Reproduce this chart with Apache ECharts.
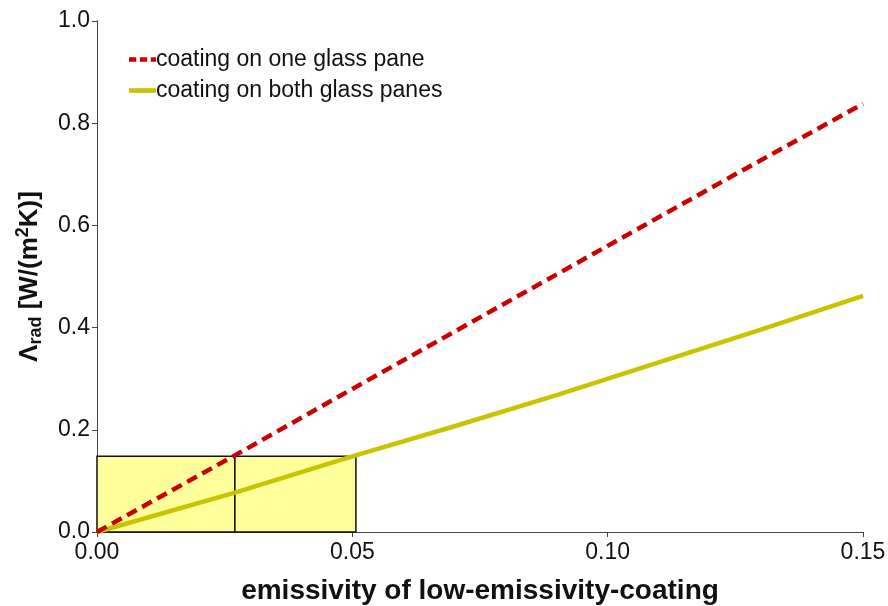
<!DOCTYPE html>
<html>
<head>
<meta charset="utf-8">
<script src="https://cdn.jsdelivr.net/npm/echarts@6/dist/echarts.min.js"></script>
<style>
  html, body { margin: 0; padding: 0; background: #fff; }
  #chart { width: 888px; height: 606px; }
</style>
</head>
<body>
<div id="chart"></div>
<script>
// emissivity of the low-e coating (x) and radiative conductance (y)
const onePaneEps   = [0, 0.027, 0.05, 0.075, 0.10, 0.125, 0.15];
const onePaneLam   = [0, 0.150, 0.280, 0.420, 0.560, 0.700, 0.838];
const bothPaneEps  = [0, 0.027, 0.05, 0.07, 0.09, 0.11, 0.13, 0.15];
const bothPaneLam  = [0, 0.077, 0.148, 0.207, 0.268, 0.332, 0.396, 0.462];
// highlighted region: [epsFrom, epsTo, lambdaTop]
const boxes = [[0, 0.027, 0.148], [0.027, 0.0507, 0.148]];
const seriesNames = ['coating on one glass pane', 'coating on both glass panes'];

const pair = (xs, ys) => xs.map((x, i) => [x, ys[i]]);
const FONT = '"Liberation Sans", Arial, sans-serif';
const AX = '#444';

// legend keys: a short dashed stroke and a short solid stroke
const DASH_ICON = 'path://M0,0H7V4.5H0Z M10.5,0H17.5V4.5H10.5Z M21,0H26V4.5H21Z';
const SOLID_ICON = 'path://M0,0H26V4.5H0Z';

const chart = echarts.init(document.getElementById('chart'), null, { renderer: 'canvas' });
chart.setOption({
  animation: false,
  backgroundColor: '#fff',
  textStyle: { fontFamily: FONT },
  grid: { left: 97, right: 25, top: 21, bottom: 74, containLabel: false, outerBoundsMode: 'none' },
  legend: {
    left: 124, top: 43, orient: 'vertical', itemGap: 8,
    itemWidth: 27, itemHeight: 25,
    textStyle: { fontFamily: FONT, fontSize: 23, color: '#111', padding: [0, 0, 0, -5] },
    data: [
      { name: seriesNames[0], icon: DASH_ICON },
      { name: seriesNames[1], icon: SOLID_ICON }
    ]
  },
  xAxis: [{
    type: 'value', min: 0, max: 0.15, interval: 0.05,
    name: 'emissivity of low-emissivity-coating', nameLocation: 'middle', nameGap: 45,
    nameTextStyle: { fontFamily: FONT, fontSize: 28, fontWeight: 'bold', color: '#111' },
    axisLine: { show: true, lineStyle: { color: AX, width: 1 } },
    axisTick: { show: true, length: 5, lineStyle: { color: AX } },
    axisLabel: { fontSize: 23, color: '#111', margin: 9,
      formatter: v => v.toFixed(2) },
    splitLine: { show: false }
  }, {
    type: 'value', min: 0, max: 0.15, interval: 0.05, position: 'top',
    axisLine: { show: true, lineStyle: { color: AX, width: 1 } },
    axisTick: { show: false }, axisLabel: { show: false }, splitLine: { show: false }
  }],
  yAxis: [{
    type: 'value', min: 0, max: 1.0, interval: 0.2,
    name: '{a|Λ}{sub|rad}{a| [W/(m}{sup|2}{a|K)]}',
    nameLocation: 'middle', nameGap: 49, nameRotate: 90,
    nameTextStyle: {
      fontFamily: FONT, color: '#111',
      rich: {
        a: { fontFamily: FONT, fontSize: 26, fontWeight: 'bold', color: '#111', lineHeight: 36, verticalAlign: 'middle' },
        sub: { fontFamily: FONT, fontSize: 18, fontWeight: 'bold', color: '#111', lineHeight: 36, padding: [13, 0, 0, 0] },
        sup: { fontFamily: FONT, fontSize: 18, fontWeight: 'bold', color: '#111', lineHeight: 36, padding: [0, 0, 13, 0] }
      }
    },
    axisLine: { show: true, lineStyle: { color: AX, width: 1 } },
    axisTick: { show: true, length: 5, lineStyle: { color: AX } },
    axisLabel: { fontSize: 23, color: '#111', margin: 7, formatter: v => v.toFixed(1) },
    splitLine: { show: false }
  }, {
    type: 'value', min: 0, max: 1.0, interval: 0.2, position: 'right',
    axisLine: { show: true, lineStyle: { color: AX, width: 1 } },
    axisTick: { show: true, inside: true, length: 5, lineStyle: { color: AX } },
    axisLabel: { show: false }, splitLine: { show: false }
  }],
  series: [{
    type: 'custom', name: 'region', z: 1, silent: true,
    data: boxes,
    renderItem: (params, api) => {
      const p0 = api.coord([api.value(0), 0]);
      const p1 = api.coord([api.value(1), api.value(2)]);
      return {
        type: 'rect',
        shape: { x: p0[0], y: p1[1], width: p1[0] - p0[0], height: p0[1] - p1[1] },
        style: { fill: '#FFFF9C', stroke: '#111', lineWidth: 1.5 }
      };
    }
  }, {
    type: 'line', name: seriesNames[0], z: 3,
    data: pair(onePaneEps, onePaneLam),
    showSymbol: false, symbol: 'none',
    color: '#CC0000',
    itemStyle: { color: '#CC0000' },
    lineStyle: { color: '#CC0000', width: 4.5, type: [11, 6.2] }
  }, {
    type: 'line', name: seriesNames[1], z: 2,
    data: pair(bothPaneEps, bothPaneLam),
    showSymbol: false, symbol: 'none',
    color: '#C8C400',
    itemStyle: { color: '#C8C400' },
    lineStyle: { color: '#C8C400', width: 4.5 }
  }]
});
</script>
</body>
</html>
